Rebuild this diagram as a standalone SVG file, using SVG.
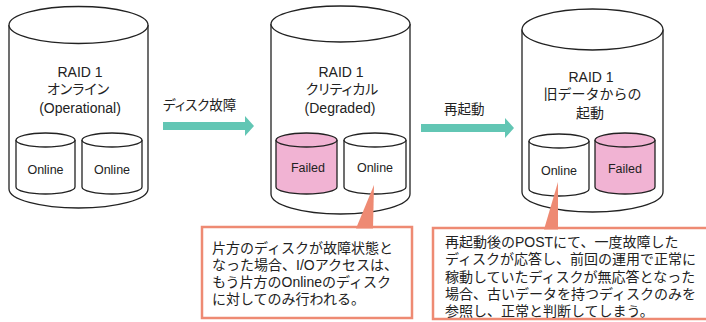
<svg xmlns="http://www.w3.org/2000/svg" width="706" height="322" viewBox="0 0 706 322">
<style>
.cyl{fill:#fff;stroke:#222;stroke-width:1.3}
.fail{fill:#F1B3D3;stroke:#222;stroke-width:1.3}
.lbl{font-family:"Liberation Sans","Noto Sans CJK JP",sans-serif;font-size:14px;fill:#222;text-anchor:middle}
.palt{font-feature-settings:"palt"}
.sm{font-family:"Liberation Sans","Noto Sans CJK JP",sans-serif;font-size:12.5px;fill:#222;text-anchor:middle}
.arr{fill:#62C6B4}
.atx{font-family:"Liberation Sans","Noto Sans CJK JP",sans-serif;font-size:13.5px;fill:#222}
.box{fill:#fff;stroke:#EE8A73;stroke-width:2.5}
.ptr{fill:#EE8A73}
.ctx{font-family:"Liberation Sans","Noto Sans CJK JP",sans-serif;font-size:14px;fill:#222}
</style>

<g id="raid1">
  <path class="cyl" d="M9,25 L9,189 A69.5,19 0 0 0 148,189 L148,25"/>
  <ellipse class="cyl" cx="78.5" cy="25" rx="69.5" ry="18.5"/>
  <text class="lbl" x="80" y="77">RAID 1</text>
  <text class="lbl palt" x="78" y="94">オンライン</text>
  <text class="lbl" x="80" y="113">(Operational)</text>
  <g id="raid1-disk1">
    <path class="cyl" d="M16,140 L16,187 A29.5,7 0 0 0 75,187 L75,140"/>
    <ellipse class="cyl" cx="45.5" cy="140" rx="29.5" ry="7"/>
    <text class="sm" x="45.5" y="173.5">Online</text>
  </g>
  <g id="raid1-disk2">
    <path class="cyl" d="M82,140 L82,187 A30,7 0 0 0 142,187 L142,140"/>
    <ellipse class="cyl" cx="112" cy="140" rx="30" ry="7"/>
    <text class="sm" x="112" y="173.5">Online</text>
  </g>
</g>

<g id="raid2">
  <path class="cyl" d="M271,24 L271,194 A69.5,20 0 0 0 410,194 L410,24"/>
  <ellipse class="cyl" cx="340.5" cy="24" rx="69.5" ry="18"/>
  <text class="lbl" x="341" y="77">RAID 1</text>
  <text class="lbl palt" x="342" y="94">クリティカル</text>
  <text class="lbl" x="340" y="113">(Degraded)</text>
  <g id="raid2-disk1">
    <path class="fail" d="M276,140 L276,187 A30.5,7 0 0 0 337,187 L337,140"/>
    <ellipse class="fail" cx="306.5" cy="140" rx="30.5" ry="7"/>
    <text class="sm" x="308" y="172">Failed</text>
  </g>
  <g id="raid2-disk2">
    <path class="cyl" d="M344,140 L344,187 A31,7 0 0 0 406,187 L406,140"/>
    <ellipse class="cyl" cx="375" cy="140" rx="31" ry="7"/>
    <text class="sm" x="375" y="172">Online</text>
  </g>
</g>

<g id="raid3">
  <path class="cyl" d="M522,29.5 L522,192 A70.5,20 0 0 0 663,192 L663,29.5"/>
  <ellipse class="cyl" cx="592.5" cy="29.5" rx="70.5" ry="20.5"/>
  <text class="lbl" x="591" y="82">RAID 1</text>
  <text class="lbl" x="592.5" y="99">旧データからの</text>
  <text class="lbl" x="590" y="118">起動</text>
  <g id="raid3-disk1">
    <path class="cyl" d="M529,141 L529,189 A30,7 0 0 0 589,189 L589,141"/>
    <ellipse class="cyl" cx="559" cy="141" rx="30" ry="7"/>
    <text class="sm" x="559" y="174.5">Online</text>
  </g>
  <g id="raid3-disk2">
    <path class="fail" d="M595,140 L595,187 A30,7 0 0 0 655,187 L655,140"/>
    <ellipse class="fail" cx="625" cy="140" rx="30" ry="7"/>
    <text class="sm" x="625" y="172.5">Failed</text>
  </g>
</g>

<g id="connectors">
  <polygon class="arr" points="163,122 245,122 245,116 254,126 245,136 245,130 163,130"/>
  <text class="atx palt" x="163" y="110">ディスク故障</text>
  <polygon class="arr" points="421,124 505,124 505,118 514,128 505,138 505,132 421,132"/>
  <text class="atx" x="444" y="114">再起動</text>
</g>

<g id="note1">
  <rect class="box" x="202" y="227" width="210" height="91"/>
  <polygon class="ptr" points="356,228.5 374,185 373,228.5"/>
  <text class="ctx" x="212" y="253">片方のディスクが故障状態と</text>
  <text class="ctx" x="212" y="270">なった場合、I/Oアクセスは、</text>
  <text class="ctx" x="212" y="287">もう片方のOnlineのディスク</text>
  <text class="ctx" x="212" y="304">に対してのみ行われる。</text>
</g>

<g id="note2">
  <rect class="box" x="433" y="228" width="278" height="91"/>
  <polygon class="ptr" points="544,229.5 558,182 558,229.5"/>
  <text class="ctx" x="445" y="247">再起動後のPOSTにて、一度故障した</text>
  <text class="ctx" x="445" y="264">ディスクが応答し、前回の運用で正常に</text>
  <text class="ctx" x="445" y="282">稼動していたディスクが無応答となった</text>
  <text class="ctx" x="445" y="298.5">場合、古いデータを持つディスクのみを</text>
  <text class="ctx" x="445" y="316">参照し、正常と判断してしまう。</text>
</g>
</svg>
